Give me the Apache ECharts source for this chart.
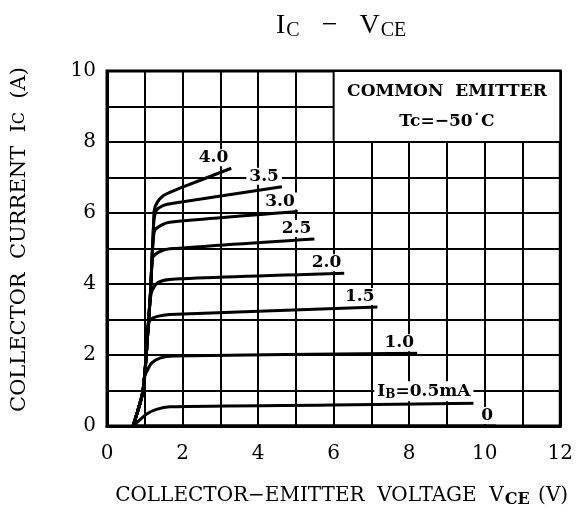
<!DOCTYPE html>
<html>
<head>
<meta charset="utf-8">
<script src="https://cdn.jsdelivr.net/npm/echarts@6/dist/echarts.min.js"></script>
<style>html,body{margin:0;padding:0;background:#fff}#c{width:576px;height:516px}</style>
</head>
<body>
<div id="c"></div>
<script>
// ---- data (VCE in V, IC in A) ----
const xTicks = [0, 2, 4, 6, 8, 10, 12];
const yTicks = [0, 2, 4, 6, 8, 10];
const curveLabels = ['0', 'I{s|B}=0.5mA', '1.0', '1.5', '2.0', '2.5', '3.0', '3.5', '4.0'];
const ib0   = [[0.69,0],[10.3,0]];
const ib05  = [[0.69,0],[0.87,0.17],[1.05,0.34],[1.31,0.47],[1.66,0.54],[5.96,0.59],[9.70,0.64]];
const ib10  = [[0.69,0],[0.94,0.92],[1.00,1.40],[1.05,1.53],[1.18,1.77],[1.40,1.91],[1.75,1.97],[8.21,2.05]];
const ib15  = [[0.69,0],[0.94,0.92],[1.03,1.86],[1.09,2.80],[1.15,2.99],[1.31,3.08],[1.66,3.14],[7.16,3.35]];
const ib20  = [[0.69,0],[0.94,0.92],[1.03,1.86],[1.09,2.80],[1.15,3.60],[1.20,3.83],[1.35,4.04],[1.66,4.13],[6.28,4.30]];
const ib25  = [[0.69,0],[0.94,0.92],[1.03,1.86],[1.09,2.80],[1.15,3.74],[1.19,4.55],[1.22,4.77],[1.40,4.91],[1.66,4.99],[5.49,5.27]];
const ib30  = [[0.69,0],[0.94,0.92],[1.03,1.86],[1.09,2.80],[1.15,3.74],[1.19,4.68],[1.23,5.30],[1.27,5.52],[1.44,5.66],[1.66,5.74],[5.05,6.04]];
const ib35  = [[0.69,0],[0.94,0.92],[1.03,1.86],[1.09,2.80],[1.15,3.74],[1.19,4.68],[1.23,5.61],[1.25,5.85],[1.31,6.08],[1.48,6.21],[1.71,6.27],[4.63,6.74]];
const ib40  = [[0.69,0],[0.94,0.92],[1.03,1.86],[1.09,2.80],[1.15,3.74],[1.19,4.68],[1.23,5.61],[1.25,6.08],[1.33,6.30],[1.48,6.48],[1.71,6.60],[1.93,6.70],[3.29,7.26]];
const curves = [ib0, ib05, ib10, ib15, ib20, ib25, ib30, ib35, ib40];
const boxRange = [[6, 8], [12, 10]];
const boxText = ['COMMON  EMITTER', 'Tc=\u221250\u02d9C'];

const serif = '"DejaVu Serif", serif';
const labelRich = { s: { fontSize: 12, fontWeight: 'bold', fontFamily: serif, padding: [8, 0, 0, 0] } };

const series = curves.map((d, i) => ({
  type: 'line',
  data: d,
  showSymbol: false,
  smooth: 0.25,
  lineStyle: { color: '#000', width: 3 },
  z: 3,
  markPoint: {
    symbol: 'circle', symbolSize: 0, silent: true,
    data: [{ coord: d[d.length - 1] }],
    label: {
      show: true, position: 'top', align: 'right', distance: 2,
      formatter: curveLabels[i],
      color: '#000', fontFamily: serif, fontWeight: 'bold', fontSize: 17,
      backgroundColor: '#fff', padding: [0, 3, 0, 3],
      rich: labelRich
    }
  }
}));

series.push({
  type: 'line', data: [], z: 2,
  markArea: {
    silent: true,
    itemStyle: { color: '#fff', borderColor: '#000', borderWidth: 2 },
    label: {
      show: true, position: 'inside', color: '#000',
      fontFamily: serif, fontWeight: 'bold', fontSize: 17, lineHeight: 30,
      formatter: boxText.join('\n')
    },
    data: [[{ coord: boxRange[0] }, { coord: boxRange[1] }]]
  }
});

const tf = '"Liberation Serif", serif';
const chart = echarts.init(document.getElementById('c'), null, { renderer: 'canvas' });
chart.setOption({
  animation: false,
  backgroundColor: '#fff',
  title: {
    text: '{m|I}{s|C}{d|\u2212}{m|V}{s|CE}',
    left: 271, top: 6,
    textStyle: {
      fontWeight: 'normal',
      rich: {
        m: { fontFamily: tf, fontSize: 28, fontWeight: 'normal', color: '#000' },
        d: { fontFamily: tf, fontSize: 28, fontWeight: 'normal', color: '#000', padding: [0, 22, 0, 22] },
        s: { fontFamily: tf, fontSize: 20, fontWeight: 'normal', color: '#000', padding: [10, 0, 0, 1] }
      }
    }
  },
  grid: { left: 107, right: 14, top: 71, bottom: 90, show: true, borderColor: '#000', borderWidth: 3 },
  xAxis: {
    type: 'value', min: 0, max: 12, interval: 1,
    axisLine: { show: true, lineStyle: { color: '#000', width: 3 } },
    axisTick: { show: false },
    splitLine: { show: true, lineStyle: { color: '#000', width: 2 } },
    axisLabel: {
      margin: 18, color: '#000', fontFamily: serif, fontSize: 20,
      formatter: v => xTicks.includes(v) ? String(v) : ''
    },
    name: '{t|COLLECTOR\u2212EMITTER  VOLTAGE  V}{s|CE}{t| (V)}',
    nameLocation: 'middle', nameGap: 58,
    nameTextStyle: {
      padding: [0, 0, 0, 16],
      rich: {
        t: { fontFamily: serif, fontSize: 20, color: '#000' },
        s: { fontFamily: serif, fontSize: 16, fontWeight: 'bold', color: '#000', padding: [8, 2, 0, 1] }
      }
    }
  },
  yAxis: {
    type: 'value', min: 0, max: 10, interval: 1,
    axisLine: { show: true, lineStyle: { color: '#000', width: 3 } },
    axisTick: { show: false },
    splitLine: { show: true, lineStyle: { color: '#000', width: 2 } },
    axisLabel: {
      margin: 11, color: '#000', fontFamily: serif, fontSize: 20,
      formatter: v => yTicks.includes(v) ? String(v) : ''
    },
    name: '{t|COLLECTOR  CURRENT  I}{s|C}{t|  (A)}',
    nameLocation: 'middle', nameGap: 77, nameRotate: 90,
    nameTextStyle: {
      padding: [0, 0, 0, 18],
      rich: {
        t: { fontFamily: serif, fontSize: 21, color: '#000' },
        s: { fontFamily: serif, fontSize: 16, color: '#000' }
      }
    }
  },
  series: series
});
</script>
</body>
</html>
